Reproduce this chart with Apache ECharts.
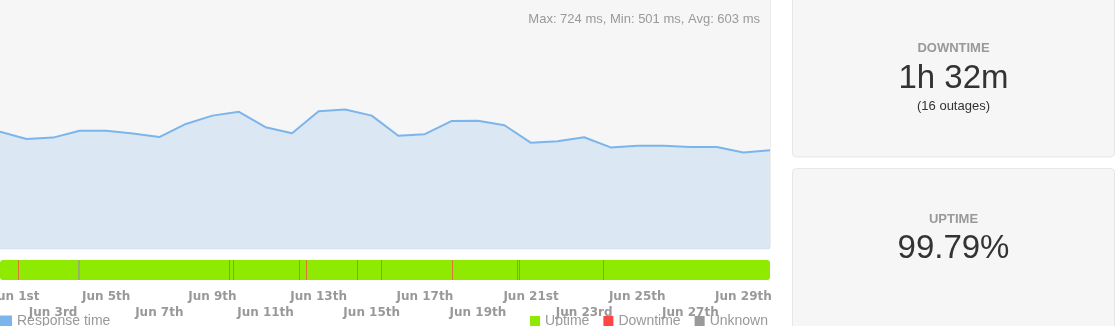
<!DOCTYPE html>
<html>
<head>
<meta charset="utf-8">
<script src="https://cdn.jsdelivr.net/npm/echarts@6/dist/echarts.min.js"></script>
<style>
  html, body { margin: 0; padding: 0; background: #ffffff; overflow: hidden; }
  #chart { width: 1117px; height: 326px; }
</style>
</head>
<body>
<div id="chart"></div>
<script>
// Daily average response time in ms, one value per day from Jun 1 to Jun 30
const responseTimes = [609, 571, 578, 614, 614, 599, 581, 649, 692, 712,
                       632, 601, 715, 724, 692, 588, 596, 664, 665, 642,
                       551, 559, 580, 527, 536, 536, 529, 529, 501, 513];

// Days that carry an axis label, and their text
const tickDays   = [1, 3, 5, 7, 9, 11, 13, 15, 17, 19, 21, 23, 25, 27, 29];
const tickLabels = ['Jun 1st', 'Jun 3rd', 'Jun 5th', 'Jun 7th', 'Jun 9th', 'Jun 11th', 'Jun 13th',
                    'Jun 15th', 'Jun 17th', 'Jun 19th', 'Jun 21st', 'Jun 23rd', 'Jun 25th',
                    'Jun 27th', 'Jun 29th'];

// Status events (day of June, hour, minute)
const downtimeEvents = [[1, 16, 30], [9, 15, 0], [9, 18, 50], [12, 6, 30], [12, 12, 50],
                        [14, 10, 25], [15, 8, 10], [18, 0, 50], [20, 11, 5], [20, 13, 10],
                        [23, 17, 20]];
const unknownEvents  = [[3, 22, 15]];

// Summary figures
const outageCount = 16;
const downtimeMinutes = 92;
const periodDays = 30;

const YEAR = 2024, MONTH = 5;
const ts = (d, h, m) => new Date(YEAR, MONTH, d, h || 0, m || 0).getTime();
const axisMin = ts(1);
const axisMax = ts(30);

const lineData = responseTimes.map((v, i) => [ts(1 + i), v]);
const upperTicks = tickDays.filter((d, i) => i % 2 === 0).map(d => ts(d));
const lowerTicks = tickDays.filter((d, i) => i % 2 === 1).map(d => ts(d));
const labelFor = v => tickLabels[tickDays.indexOf(new Date(v).getDate())] || '';

const maxRt = Math.max(...responseTimes);
const minRt = Math.min(...responseTimes);
const avgRt = Math.round(responseTimes.reduce((a, b) => a + b, 0) / responseTimes.length);
const statsText = 'Max: ' + maxRt + ' ms, Min: ' + minRt + ' ms, Avg: ' + avgRt + ' ms';

const downtimeText = Math.floor(downtimeMinutes / 60) + 'h ' + (downtimeMinutes % 60) + 'm';
const uptimeText = (100 - downtimeMinutes / (periodDays * 1440) * 100).toFixed(2) + '%';

const GREEN = '#8eea00', RED = '#ff4646', GREY = '#9a9a9a', BLUE = '#7cb5ec';
const SANS = 'Liberation Sans, Arial, sans-serif';
const AXISFONT = 'DejaVu Sans, Verdana, sans-serif';

// Uptime span across the whole period
function statusSpan(params, api) {
  const a = api.coord([api.value(0), 1]);
  const b = api.coord([api.value(1), 0]);
  return { type: 'rect', shape: { x: a[0], y: a[1], width: b[0] - a[0], height: b[1] - a[1], r: 3 },
           style: { fill: api.visual('color') } };
}
// Hairline tick for a short event, tinted towards the strip colour
function markRenderer(width, mix) {
  return function (params, api) {
    const a = api.coord([api.value(0), 1]);
    const b = api.coord([api.value(0), 0]);
    return { type: 'rect', shape: { x: Math.round(a[0]), y: a[1], width: width, height: b[1] - a[1] },
             style: { fill: echarts.color.lerp(mix, [GREEN, api.visual('color')]) } };
  };
}

const axisLabelBase = {
  color: '#999999', fontFamily: AXISFONT, fontWeight: 'bold', fontSize: 12,
  showMinLabel: true, showMaxLabel: true, hideOverlap: false,
  formatter: v => {
    const t = labelFor(v);
    return new Date(v).getDate() === tickDays[0] ? '{first|' + t + '}' : t;
  },
  rich: { first: { color: '#999999', fontFamily: AXISFONT, fontWeight: 'bold', fontSize: 12, padding: [0, 0, 0, 32] } }
};

const statusAxis = (ticks, margin) => ({
  type: 'value', gridIndex: 1, position: 'bottom', min: axisMin, max: axisMax,
  axisLine: { show: false }, axisTick: { show: false }, splitLine: { show: false },
  axisLabel: Object.assign({}, axisLabelBase, { customValues: ticks, margin: margin })
});

const chart = echarts.init(document.getElementById('chart'), null, { renderer: 'canvas' });
chart.setOption({
  animation: false,
  backgroundColor: '#ffffff',
  title: {
    text: statsText, right: 357, top: 13, padding: 0,
    textStyle: { color: '#999999', fontSize: 13, fontWeight: 'normal', fontFamily: SANS }
  },
  legend: [
    { data: ['Response time'], left: 0, top: 314, padding: 0, icon: 'rect', itemWidth: 12, itemHeight: 11,
      selectedMode: false, textStyle: { color: '#999999', fontSize: 14, fontFamily: SANS } },
    { data: ['Uptime', 'Downtime', 'Unknown'], right: 349, top: 314, padding: 0, icon: 'rect',
      itemWidth: 10, itemHeight: 10, itemGap: 14, selectedMode: false,
      textStyle: { color: '#999999', fontSize: 14, fontFamily: SANS } }
  ],
  grid: [
    { left: 0, top: 0, width: 770, height: 249, outerBoundsMode: 'none' },
    { left: 0, top: 260, width: 770, height: 20, outerBoundsMode: 'none' }
  ],
  xAxis: [
    { type: 'value', gridIndex: 0, min: axisMin, max: axisMax, show: false },
    statusAxis(upperTicks, 11),
    statusAxis(lowerTicks, 27)
  ],
  yAxis: [
    { type: 'value', gridIndex: 0, min: 0, max: 1292, show: false },
    { type: 'value', gridIndex: 1, min: 0, max: 1, show: false }
  ],
  graphic: [
    { type: 'rect', z: -10, shape: { x: -6, y: -6, width: 776.5, height: 255, r: 4 },
      style: { fill: '#f6f6f6', stroke: '#ececec', lineWidth: 1 } },
    { type: 'rect', z: -10, shape: { x: 792.5, y: -6, width: 322, height: 163, r: 4 },
      style: { fill: '#f6f6f6', stroke: '#e6e6e6', lineWidth: 1 } },
    { type: 'rect', z: -10, shape: { x: 792.5, y: 168.5, width: 322, height: 170, r: 4 },
      style: { fill: '#f6f6f6', stroke: '#e6e6e6', lineWidth: 1 } },
    { type: 'text', x: 953.5, y: 48, style: { text: 'DOWNTIME', fill: '#999999', font: 'bold 13px ' + SANS,
      align: 'center', verticalAlign: 'middle' } },
    { type: 'text', x: 953.5, y: 79, style: { text: downtimeText, fill: '#333333', font: '33px ' + SANS,
      align: 'center', verticalAlign: 'middle' } },
    { type: 'text', x: 953.5, y: 106, style: { text: '(' + outageCount + ' outages)', fill: '#333333',
      font: '13px ' + SANS, align: 'center', verticalAlign: 'middle' } },
    { type: 'text', x: 953.5, y: 219, style: { text: 'UPTIME', fill: '#999999', font: 'bold 13px ' + SANS,
      align: 'center', verticalAlign: 'middle' } },
    { type: 'text', x: 953.5, y: 249, style: { text: uptimeText, fill: '#333333', font: '33px ' + SANS,
      align: 'center', verticalAlign: 'middle' } }
  ],
  series: [
    { name: 'Response time', type: 'line', xAxisIndex: 0, yAxisIndex: 0, data: lineData,
      symbol: 'none', color: BLUE,
      lineStyle: { color: BLUE, width: 2 },
      areaStyle: { color: BLUE, opacity: 0.22 } },
    { name: 'Uptime', type: 'custom', xAxisIndex: 1, yAxisIndex: 1, color: GREEN,
      renderItem: statusSpan, data: [[axisMin, axisMax]] },
    { name: 'Downtime', type: 'custom', xAxisIndex: 1, yAxisIndex: 1, color: RED, z: 3,
      renderItem: markRenderer(1, 0.7), data: downtimeEvents.map(e => [ts(e[0], e[1], e[2])]) },
    { name: 'Unknown', type: 'custom', xAxisIndex: 1, yAxisIndex: 1, color: GREY, z: 3,
      renderItem: markRenderer(2, 0.7), data: unknownEvents.map(e => [ts(e[0], e[1], e[2])]) }
  ]
});
</script>
</body>
</html>
